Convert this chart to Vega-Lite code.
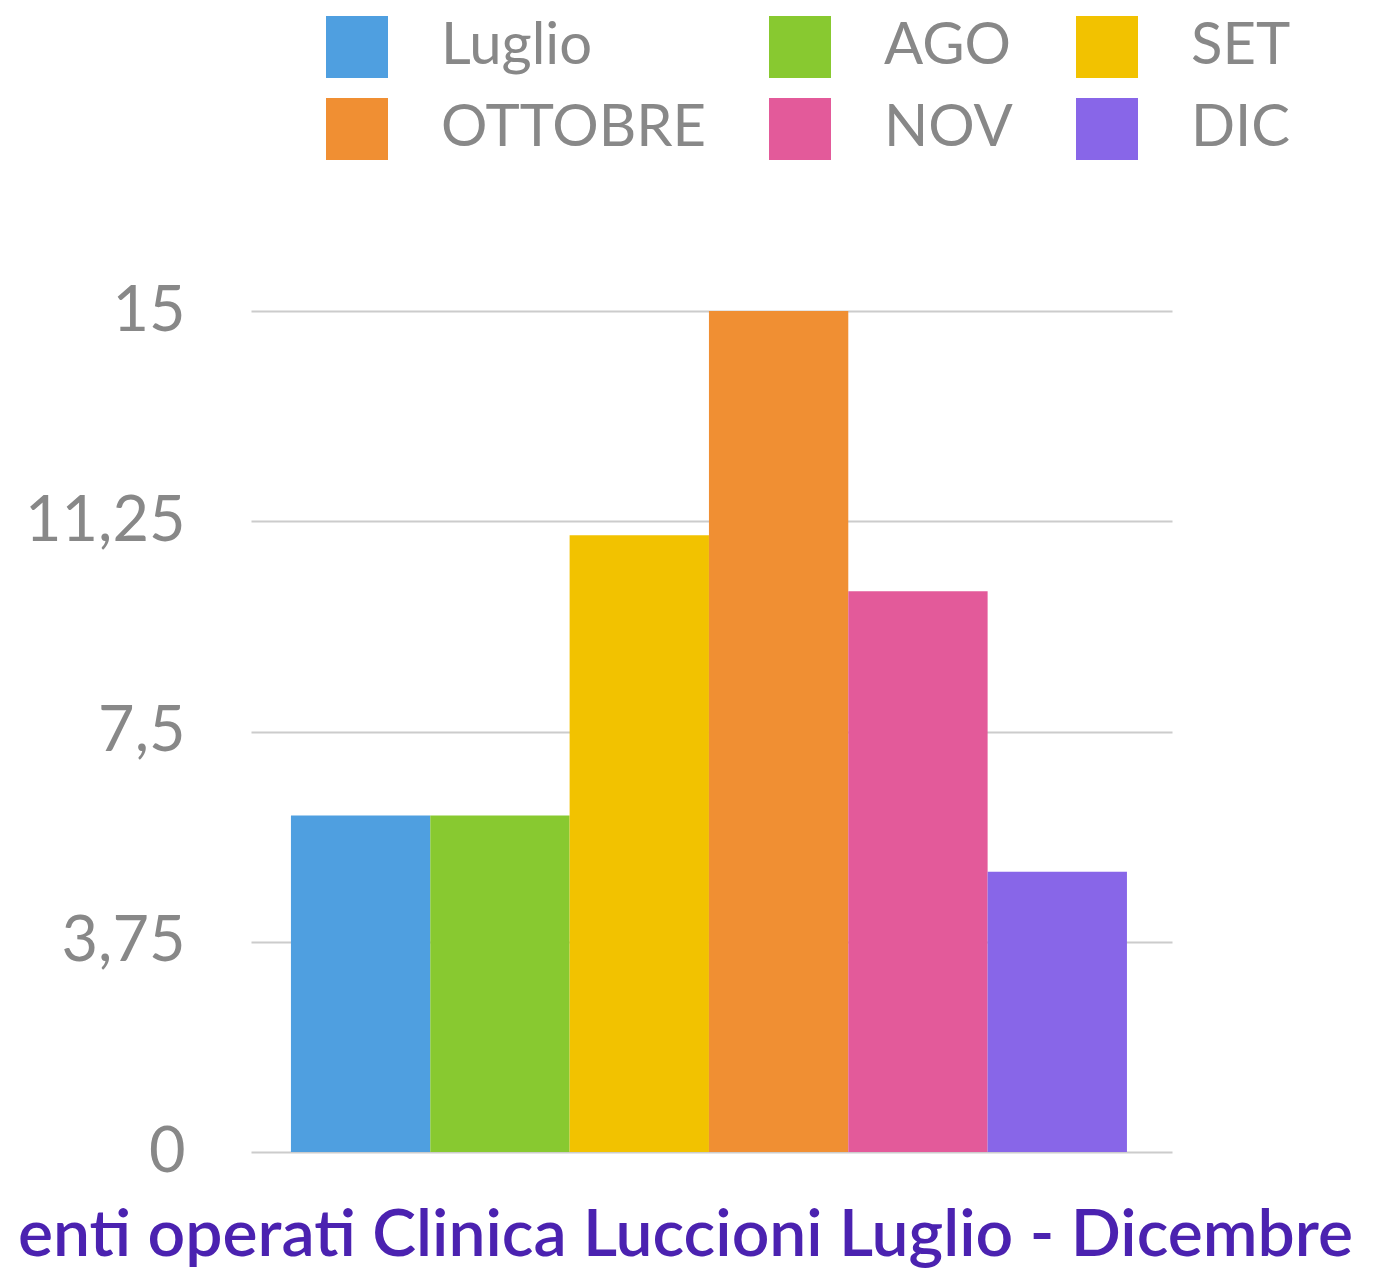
{
  "$schema": "https://vega.github.io/schema/vega-lite/v6.json",
  "width": 921,
  "height": 841,
  "autosize": {"type": "none"},
  "padding": {"left": 251, "top": 311, "right": 205, "bottom": 122},
  "background": "#ffffff",
  "config": {"view": {"stroke": null}, "font": "Lato"},
  "title": {
    "text": "enti operati Clinica Luccioni Luglio - Dicembre",
    "orient": "bottom",
    "anchor": "middle",
    "frame": "group",
    "dx": -26,
    "offset": 20,
    "fontSize": 66,
    "fontWeight": 600,
    "font": "Lato",
    "color": "#4B22B0"
  },
  "data": {
    "values": [
      {"mese": "Luglio", "valore": 6},
      {"mese": "AGO", "valore": 6},
      {"mese": "SET", "valore": 11},
      {"mese": "OTTOBRE", "valore": 15},
      {"mese": "NOV", "valore": 10},
      {"mese": "DIC", "valore": 5}
    ]
  },
  "mark": {"type": "bar"},
  "encoding": {
    "x": {
      "field": "mese",
      "type": "nominal",
      "sort": null,
      "axis": null,
      "scale": {"paddingInner": 0, "paddingOuter": 0.305, "align": 0.47}
    },
    "y": {
      "field": "valore",
      "type": "quantitative",
      "scale": {"domain": [0, 15], "nice": false},
      "axis": {
        "values": [0, 3.75, 7.5, 11.25, 15],
        "labelExpr": "replace(toString(datum.value), '.', ',')",
        "title": null,
        "domain": false,
        "ticks": false,
        "labelPadding": 66,
        "labelFontSize": 63,
        "labelColor": "#888888",
        "labelFont": "Lato",
        "gridColor": "#cccccc",
        "gridWidth": 2
      }
    },
    "color": {
      "field": "mese",
      "type": "nominal",
      "sort": null,
      "scale": {
        "domain": ["Luglio", "AGO", "SET", "OTTOBRE", "NOV", "DIC"],
        "range": ["#4F9FE0", "#88C930", "#F2C200", "#F08F33", "#E35A9A", "#8866E8"]
      },
      "legend": {
        "orient": "none",
        "direction": "horizontal",
        "legendX": 75,
        "legendY": -295,
        "columns": 3,
        "title": null,
        "padding": 0,
        "symbolType": "square",
        "symbolSize": 3844,
        "symbolStrokeWidth": 0,
        "labelFontSize": 58,
        "labelColor": "#888888",
        "labelFont": "Lato",
        "labelOffset": 53,
        "columnPadding": 63,
        "rowPadding": 20,
        "labelLimit": 600
      }
    }
  }
}
